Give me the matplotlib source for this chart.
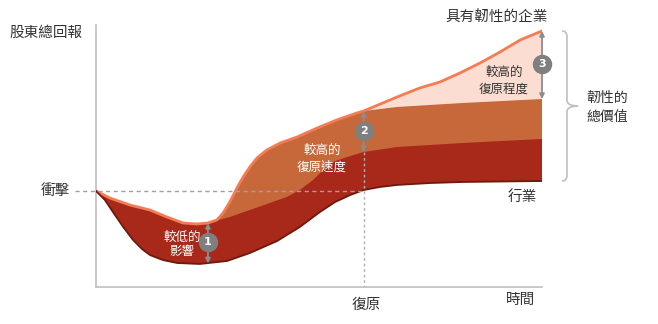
import matplotlib
matplotlib.use('Agg')
import matplotlib.pyplot as plt
import numpy as np
from matplotlib.path import Path
from matplotlib.patches import PathPatch

plt.rcParams['font.family'] = ['Noto Sans CJK TC', 'DejaVu Sans']

# ---- data (time 0..10, total shareholder return index, shock = 100)
industry_t = [0, 0.20, 0.38, 0.61, 0.83, 1.03, 1.21, 1.50, 1.82, 2.33, 2.94, 3.45, 4.06,
              4.57, 5.02, 5.36, 5.70, 6.0, 6.37, 6.75, 7.49, 8.23, 10]
industry_v = [100, 90.6, 78.1, 62.5, 49.0, 39.6, 33.3, 28.1, 25.0, 24.0, 27.1, 35.4, 47.9,
              62.5, 78.1, 88.5, 95.8, 101.0, 104.2, 106.3, 108.3, 109.4, 110.4]

resilient_t = [0, 0.31, 0.76, 1.21, 1.59, 1.95, 2.26, 2.51, 2.71, 2.85, 3.00, 3.16, 3.30,
               3.45, 3.61, 3.83, 4.13, 4.51, 4.96, 5.40, 5.85, 6.0, 6.75, 7.26, 7.71,
               8.16, 8.61, 9.06, 9.51, 10]
resilient_v = [100, 92.7, 85.4, 80.2, 72.9, 66.7, 65.6, 66.7, 69.8, 77.1, 88.5, 103.1, 114.6,
               125.0, 134.4, 142.7, 150.0, 156.3, 165.6, 174.0, 181.3, 183.3, 197.9, 207.3, 213.5,
               222.9, 233.3, 244.8, 257.3, 266.7]

# top of the "lower impact" part once the company splits away from the dip
impact_t = [2.51, 3.00, 3.45, 3.90, 4.28, 4.57, 4.87, 5.09, 5.31, 5.63, 6.0, 6.75, 8.23, 10]
impact_v = [66.7, 72.9, 80.2, 87.5, 93.8, 101.0, 111.5, 121.9, 130.2, 135.4, 140.6, 145.8, 150.0, 154.2]

# top of the "faster recovery" part after the recovery point
speed_t = [6.0, 6.75, 8.23, 10]
speed_v = [183.3, 187.5, 191.7, 195.8]

split_t = 2.51
recovery_t = 6.0
shock_v = 100

c_dark = '#A8281A'
c_mid = '#C7683A'
c_light = '#FCDDD2'
c_line = '#F47C52'
c_edge = '#6A1B0D'
c_grey = '#7F7F7F'
c_text = '#333333'

W, H = 658, 324
fig = plt.figure(figsize=(W / 100, H / 100), dpi=100)
ax = fig.add_axes([96 / W, 37 / H, 446 / W, 262 / H])
ax.set_xlim(0, 10)
ax.set_ylim(0, 272.9)
for s in ['top', 'right']:
    ax.spines[s].set_visible(False)
for s in ['left', 'bottom']:
    ax.spines[s].set_color('#BFBFBF')
    ax.spines[s].set_linewidth(1.2)
ax.set_xticks([])
ax.set_yticks([])

rt = np.array(resilient_t)
rv = np.array(resilient_v)
it = np.array(industry_t)
iv = np.array(industry_v)

# bands, drawn bottom-up with overlap
ax.fill(np.r_[rt, it[::-1]], np.r_[rv, iv[::-1]], color=c_light, lw=0, zorder=1)

mask = rt < recovery_t
up_t = np.r_[rt[mask], speed_t]
up_v = np.r_[rv[mask], speed_v]
ax.fill(np.r_[up_t, it[::-1]], np.r_[up_v, iv[::-1]], color=c_mid, lw=0, zorder=2)

mask = rt < split_t
up_t = np.r_[rt[mask], impact_t]
up_v = np.r_[rv[mask], impact_v]
ax.fill(np.r_[up_t, it[::-1]], np.r_[up_v, iv[::-1]], color=c_dark, lw=0, zorder=3)

ax.plot(rt, rv, color=c_line, lw=2, zorder=4, solid_capstyle='round', solid_joinstyle='round')
ax.plot(it, iv, color=c_edge, lw=1.3, zorder=4, solid_joinstyle='round')

# reference lines
ax.plot([-0.47, recovery_t], [shock_v, shock_v], color='#A0A0A0', lw=1,
        dashes=(3, 2.5), zorder=5, clip_on=False)
ax.plot([recovery_t, recovery_t], [impact_v[impact_t.index(recovery_t)], 0], color='#B0B0B0',
        lw=1, dashes=(2, 2), zorder=5)

# numbered arrows
def marker(t, top, bottom, mid, label):
    ax.annotate('', xy=(t, top), xytext=(t, bottom),
                arrowprops=dict(arrowstyle='<|-|>', color='#8C8C8C', lw=1.3,
                                mutation_scale=7, shrinkA=0, shrinkB=0),
                zorder=6, annotation_clip=False)
    ax.plot(t, mid, 'o', ms=13, color=c_grey, zorder=7, clip_on=False)
    ax.text(t, mid, label, color='white', fontsize=8, fontweight='bold',
            ha='center', va='center', zorder=8, family='DejaVu Sans')

marker(split_t, 66.7, 24.5, 46.9, '1')
marker(recovery_t, 183.3, 140.6, 162.5, '2')
marker(10, 266.7, 195.8, 232.3, '3')

# brace for total value
x0, x1, x2 = 10.45, 10.56, 10.81
top, bot = 266.7, 110.4
mid = (top + bot) / 2
verts = [(x0, top), (x1, top), (x1, top - 6), (x1, mid + 6), (x1, mid), (x2, mid),
         (x1, mid), (x1, mid - 6), (x1, bot + 6), (x1, bot), (x0, bot)]
codes = [Path.MOVETO, Path.CURVE3, Path.CURVE3, Path.LINETO, Path.CURVE3, Path.CURVE3,
         Path.CURVE3, Path.CURVE3, Path.LINETO, Path.CURVE3, Path.CURVE3]
ax.add_patch(PathPatch(Path(verts, codes), fill=False, ec='#BFBFBF', lw=1.2, clip_on=False))

# labels
def label(px, py, s, size=10.5, color=c_text, ha='center'):
    fig.text(px / W, 1 - py / H, s, fontsize=size, color=color, ha=ha, va='center')

label(10, 33, '股東總回報', ha='left')
label(70, 191, '衝擊', ha='right')
label(366, 305, '復原')
label(521, 300, '時間')
label(522, 197, '行業')
label(497, 18, '具有韌性的企業')
label(607, 98, '韌性的', size=10)
label(607, 117, '總價值', size=10)
label(504, 72, '較高的', size=9)
label(504, 89, '復原程度', size=9)
label(322, 150, '較高的', size=9, color='white')
label(322, 167, '復原速度', size=9, color='white')
label(182, 237, '較低的', size=9, color='white')
label(182, 252, '影響', size=9, color='white')

fig.savefig('out.png', dpi=100)
